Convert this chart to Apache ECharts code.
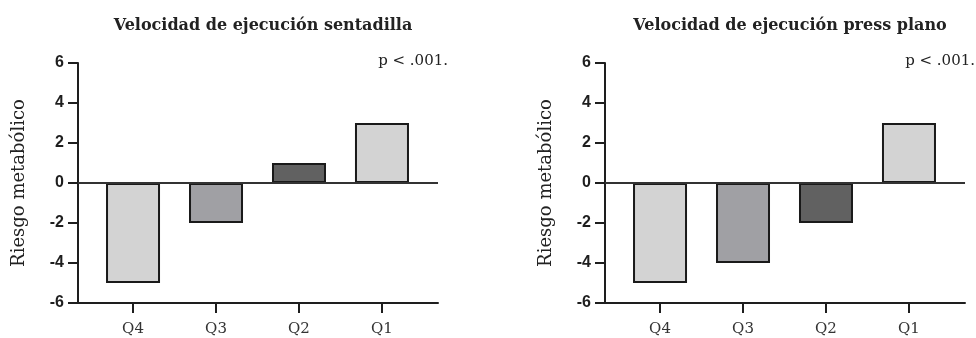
<!DOCTYPE html>
<html>
<head>
<meta charset="utf-8">
<script src="https://cdn.jsdelivr.net/npm/echarts@6/dist/echarts.min.js"></script>
<style>
  html, body { margin: 0; padding: 0; background: #fff; }
  #chart { width: 976px; height: 338px; }
</style>
</head>
<body>
<div id="chart"></div>
<script>
// data
var categories = ['Q4', 'Q3', 'Q2', 'Q1'];
var sentadillaValues = [-5, -2, 1, 3];
var pressValues = [-5, -4, -2, 3];
var barColors = ['#d3d3d3', '#a0a0a4', '#616161', '#d3d3d3'];
var yTicks = [-6, -4, -2, 0, 2, 4, 6];
var titles = ['Velocidad de ejecución sentadilla', 'Velocidad de ejecución press plano'];
var pText = 'p < .001.';
var yName = 'Riesgo metabólico';

var catPos = categories.map(function (c, i) { return i + 1; });

function barData(values) {
  return values.map(function (v, i) {
    return {
      value: [catPos[i], v],
      itemStyle: { color: barColors[i] }
    };
  });
}

var serif = '"DejaVu Serif", "Liberation Serif", serif';
var axisColor = '#1e1e1e';

function makeX(idx) {
  return {
    type: 'value',
    gridIndex: idx,
    min: 0.337,
    max: 4.675,
    position: 'bottom',
    axisLine: { onZero: false, lineStyle: { color: axisColor, width: 2 } },
    axisTick: { customValues: catPos, length: 10, lineStyle: { color: axisColor, width: 2 } },
    axisLabel: {
      customValues: catPos,
      formatter: function (v) { return categories[Math.round(v) - 1]; },
      fontFamily: serif, fontSize: 15, color: '#333', margin: 19
    },
    splitLine: { show: false }
  };
}

function makeY(idx) {
  return {
    type: 'value',
    gridIndex: idx,
    min: yTicks[0],
    max: yTicks[yTicks.length - 1],
    interval: 2,
    name: yName,
    nameLocation: 'middle',
    nameRotate: 90,
    nameGap: 50,
    nameTextStyle: { fontFamily: serif, fontSize: 18, color: '#222' },
    axisLine: { show: true, onZero: false, lineStyle: { color: axisColor, width: 2 } },
    axisTick: { show: true, length: 10, lineStyle: { color: axisColor, width: 2 } },
    axisLabel: {
      fontFamily: '"Liberation Sans", Arial, sans-serif', fontWeight: 'bold',
      fontSize: 16, color: '#1e1e1e', margin: 14
    },
    splitLine: { show: false }
  };
}

function makeSeries(idx, values) {
  return {
    type: 'bar',
    xAxisIndex: idx,
    yAxisIndex: idx,
    barWidth: 54,
    data: barData(values),
    itemStyle: { borderColor: '#1a1a1a', borderWidth: 2 },
    markLine: {
      silent: true,
      symbol: 'none',
      label: { show: false },
      lineStyle: { color: '#333', width: 2, type: 'solid' },
      data: [{ yAxis: 0 }]
    }
  };
}

var dom = document.getElementById('chart');
var myChart = echarts.init(dom, null, { renderer: 'canvas' });

var option = {
  backgroundColor: '#fff',
  animation: false,
  title: [
    {
      text: titles[0], left: 258, top: 13, textAlign: 'center',
      textStyle: { fontFamily: serif, fontWeight: 'bold', fontSize: 16, color: '#222' }
    },
    {
      text: titles[1], left: 785, top: 13, textAlign: 'center',
      textStyle: { fontFamily: serif, fontWeight: 'bold', fontSize: 16, color: '#222' }
    }
  ],
  grid: [
    { left: 78, top: 63, width: 360, height: 240 },
    { left: 605, top: 63, width: 360, height: 240 }
  ],
  xAxis: [makeX(0), makeX(1)],
  yAxis: [makeY(0), makeY(1)],
  graphic: [
    {
      type: 'text', right: 976 - 448, top: 54,
      style: { text: pText, fontFamily: serif, fontSize: 15, fill: '#222' }
    },
    {
      type: 'text', right: 1, top: 54,
      style: { text: pText, fontFamily: serif, fontSize: 15, fill: '#222' }
    }
  ],
  series: [makeSeries(0, sentadillaValues), makeSeries(1, pressValues)]
};

if (option && typeof option === 'object') {
  myChart.setOption(option);
}

window.addEventListener('resize', myChart.resize);
</script>
</body>
</html>
